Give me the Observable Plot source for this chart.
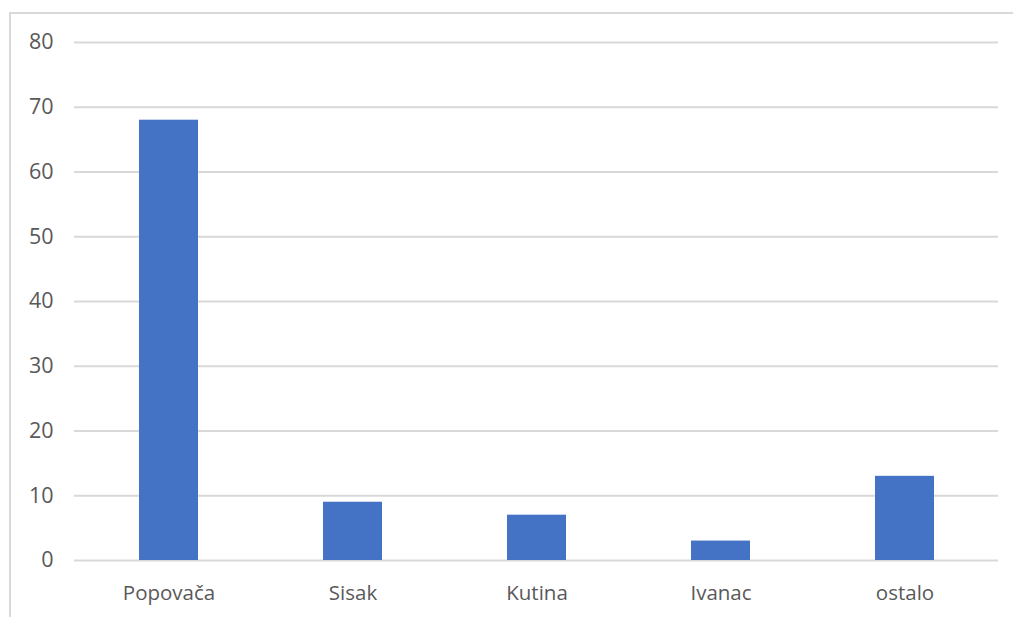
<!DOCTYPE html>
<html>
<head>
<meta charset="utf-8">
<script src="https://cdn.jsdelivr.net/npm/d3@7"></script>
<script src="https://cdn.jsdelivr.net/npm/@observablehq/plot@0.6"></script>
<style>
  html, body { margin: 0; padding: 0; background: #fff; }
  #wrap { position: relative; width: 1013px; height: 617px; overflow: hidden; }
  #frame { position: absolute; left: 9px; top: 12px; width: 1100px; height: 700px;
           border-top: 2px solid #d9d9d9; border-left: 2px solid #d9d9d9; box-sizing: border-box; }
  #chart { position: absolute; left: 0; top: 0; }
</style>
</head>
<body>
<div id="wrap"><div id="frame"></div><div id="chart"></div></div>
<script>
const categories = ["Popovača", "Sisak", "Kutina", "Ivanac", "ostalo"];
const values = [68, 9, 7, 3, 13];
const yTicks = [0, 10, 20, 30, 40, 50, 60, 70, 80];

const data = categories.map((c, i) => ({category: c, value: values[i]}));

const chart = Plot.plot({
  width: 1013,
  height: 617,
  marginLeft: 74,
  marginRight: 15,
  marginTop: 42,
  marginBottom: 57,
  style: {fontFamily: "'Open Sans', sans-serif", fontSize: "20.5px", color: "#595959", background: "transparent"},
  x: {domain: categories, paddingInner: 0.68, paddingOuter: 0.34, label: null},
  y: {domain: [0, 80], ticks: yTicks, label: null},
  marks: [
    Plot.gridY(yTicks, {stroke: "#d9d9d9", strokeWidth: 2, strokeOpacity: 1}),
    Plot.barY(data, {x: "category", y: "value", fill: "#4472c4"}),
    Plot.axisY(yTicks, {tickSize: 0, tickPadding: 21, fill: "#595959", fontSize: 21.5, label: null}),
    Plot.axisX({tickSize: 0, tickPadding: 24.5, fill: "#595959", label: null})
  ]
});
document.getElementById("chart").appendChild(chart);
</script>
</body>
</html>
